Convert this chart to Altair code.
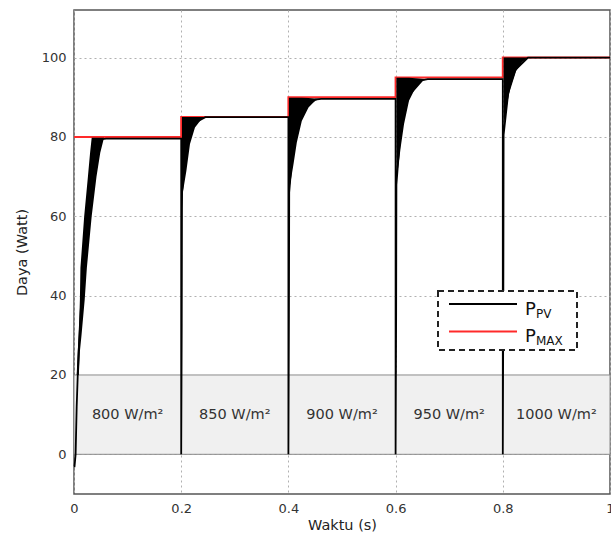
import altair as alt
import pandas as pd

# ---- data ----
# Maximum available power (step profile)
pmax_t = [0, 0.2, 0.4, 0.6, 0.8, 1.0]
pmax_p = [80, 85, 90, 95, 100, 100]

# PV power trajectory (centre line)
pv_t = [0, 0.001, 0.003, 0.005, 0.007, 0.010, 0.015, 0.020, 0.027, 0.035, 0.045, 0.060, 0.2,
        0.2, 0.201, 0.2015, 0.210, 0.225, 0.245, 0.4,
        0.4, 0.401, 0.4015, 0.410, 0.425, 0.450, 0.461, 0.6,
        0.6, 0.601, 0.6015, 0.610, 0.625, 0.650, 0.660, 0.8,
        0.8, 0.801, 0.8015, 0.810, 0.824, 0.847, 1.0]
pv_p = [-3, -3, 0, 12, 20, 30, 42, 52, 63, 73, 79.3, 79.6, 79.6,
        0, 33, 66, 78, 83.5, 85, 85,
        0, 35, 66, 80, 87, 89.4, 89.6, 89.6,
        0, 35, 68, 83, 90.5, 94.3, 94.6, 94.6,
        0, 40, 80.5, 91, 97, 100, 100]

# Oscillation band during the first climb (power level, left / right time edge)
b1_p = [20, 26, 30, 39, 47, 60, 70, 76, 79.8]
b1_tl = [0.005, 0.007, 0.009, 0.011, 0.012, 0.019, 0.026, 0.030, 0.033]
b1_tr = [0.009, 0.011, 0.014, 0.020, 0.024, 0.033, 0.042, 0.049, 0.056]

# Oscillation bands after each irradiance step (time, lower edge, upper edge)
b2_t = [0.2015, 0.2035, 0.2097, 0.2164, 0.2257, 0.238, 0.245]
b2_lo = [62, 66.4, 71.5, 78.2, 82.4, 84.5, 85]
b2_hi = [85, 85, 85, 85, 85, 85, 85]
b3_t = [0.401, 0.4032, 0.4095, 0.4157, 0.425, 0.4375, 0.4498, 0.461]
b3_lo = [66, 68, 73.1, 78.6, 84, 87.4, 89.1, 89.6]
b3_hi = [89.9, 89.9, 89.9, 89.9, 89.9, 89.8, 89.7, 89.6]
b4_t = [0.6015, 0.6032, 0.6095, 0.6157, 0.625, 0.6375, 0.6498, 0.660]
b4_lo = [68, 70.6, 77.4, 83.2, 89.1, 92.5, 94.1, 94.6]
b4_hi = [94.9, 94.9, 94.9, 94.9, 94.9, 94.8, 94.7, 94.6]
b5_t = [0.8015, 0.8035, 0.809, 0.815, 0.824, 0.836, 0.847]
b5_lo = [80.5, 84, 89, 93, 96.5, 98.8, 100]
b5_hi = [100, 100, 100, 100, 100, 100, 100]

# Irradiance labels
irr_t = [0.1, 0.3, 0.5, 0.7, 0.9]
irr_lbl = ["800 W/m²", "850 W/m²", "900 W/m²", "950 W/m²", "1000 W/m²"]

x_ticks = [0, 0.2, 0.4, 0.6, 0.8, 1.0]
y_ticks = [0, 20, 40, 60, 80, 100]

# ---- tables ----
pmax_df = pd.DataFrame({"t": pmax_t, "p": pmax_p})
pv_df = pd.DataFrame({"t": pv_t, "p": pv_p, "i": list(range(len(pv_t)))})
b1_df = pd.DataFrame({"p": b1_p, "tl": b1_tl, "tr": b1_tr})
bands = []
for k, (tt, lo, hi) in enumerate([(b2_t, b2_lo, b2_hi), (b3_t, b3_lo, b3_hi),
                                   (b4_t, b4_lo, b4_hi), (b5_t, b5_lo, b5_hi)]):
    bands.append(pd.DataFrame({"t": tt, "lo": lo, "hi": hi, "seg": k}))
band_df = pd.concat(bands, ignore_index=True)
box_df = pd.DataFrame({"x0": [0.0], "x1": [1.0], "y0": [0.0], "y1": [20.0]})
irr_df = pd.DataFrame({"t": irr_t, "lbl": irr_lbl, "y": [10] * 5})
one = pd.DataFrame({"a": [0]})

xs = alt.Scale(domain=[0, 1], nice=False, zero=False)
ys = alt.Scale(domain=[-10, 112], nice=False, zero=False)
xaxis = alt.Axis(values=x_ticks, format="~g", title="Waktu (s)", grid=True, labelFlush=False)
yaxis = alt.Axis(values=y_ticks, title="Daya (Watt)", grid=True, labelFlush=False)


def X(f):
    return alt.X(f, type="quantitative", scale=xs, axis=xaxis)


def Y(f):
    return alt.Y(f, type="quantitative", scale=ys, axis=yaxis)


box = alt.Chart(box_df).mark_rect(fill="#f0f0f0", stroke="#8a8a8a", strokeWidth=1).encode(
    x=X("x0"), x2="x1", y=Y("y0"), y2="y1")

irr = alt.Chart(irr_df).mark_text(fontSize=14.5, color="#333", font="DejaVu Sans").encode(
    x=X("t"), y=Y("y"), text="lbl")

pmax = alt.Chart(pmax_df).mark_line(color="#ff2a2a", strokeWidth=2, interpolate="step-after").encode(
    x=X("t"), y=Y("p"))

band1 = alt.Chart(b1_df).mark_area(color="#000", orient="horizontal", opacity=1).encode(
    y=Y("p"), x=X("tl"), x2="tr")

band = alt.Chart(band_df).mark_area(color="#000", opacity=1).encode(
    x=X("t"), y=Y("lo"), y2="hi", detail="seg:N")

pv = alt.Chart(pv_df).mark_line(color="#000", strokeWidth=1.8).encode(
    x=X("t"), y=Y("p"), order="i:Q")

# ---- legend (drawn by hand: dashed frame, subscripted labels) ----
leg_box = alt.Chart(one).mark_rect(fill="white", stroke="#222", strokeWidth=2,
                                   strokeDash=[6, 4]).encode(
    x=alt.value(364), x2=alt.value(503), y=alt.value(281), y2=alt.value(340))
leg_k = alt.Chart(one).mark_rule(color="#000", strokeWidth=2.2).encode(
    x=alt.value(375), x2=alt.value(443), y=alt.value(294))
leg_r = alt.Chart(one).mark_rule(color="#ff2a2a", strokeWidth=2.2).encode(
    x=alt.value(375), x2=alt.value(443), y=alt.value(321.5))
t1 = alt.Chart(one).mark_text(text="P", fontSize=18, align="left", baseline="alphabetic",
                              color="#111").encode(x=alt.value(451), y=alt.value(304.5))
t1s = alt.Chart(one).mark_text(text="PV", fontSize=12, align="left", baseline="alphabetic",
                               color="#111").encode(x=alt.value(462), y=alt.value(307.5))
t2 = alt.Chart(one).mark_text(text="P", fontSize=18, align="left", baseline="alphabetic",
                              color="#111").encode(x=alt.value(451), y=alt.value(332))
t2s = alt.Chart(one).mark_text(text="MAX", fontSize=12, align="left", baseline="alphabetic",
                               color="#111").encode(x=alt.value(462), y=alt.value(334.5))

chart = alt.layer(box, irr, pmax, band1, band, pv, leg_box, leg_k, leg_r, t1, t1s, t2, t2s).properties(
    width=536, height=484,
    autosize=alt.AutoSizeParams(type="none"),
    padding={"left": 74, "top": 10, "right": 1, "bottom": 39},
).configure(font="DejaVu Sans").configure_view(
    stroke="#555", strokeWidth=1.5
).configure_axis(
    domain=False, ticks=False, gridColor="#b0b0b0", gridDash=[2, 3], gridWidth=1,
    labelFontSize=13, labelColor="#333", titleFontSize=14.5, titleColor="#222",
    titleFontWeight="normal", labelPadding=8
).configure_axisX(titlePadding=3).configure_axisY(titlePadding=12)

chart.save("out.html", embed_options={"renderer": "svg", "actions": False})
